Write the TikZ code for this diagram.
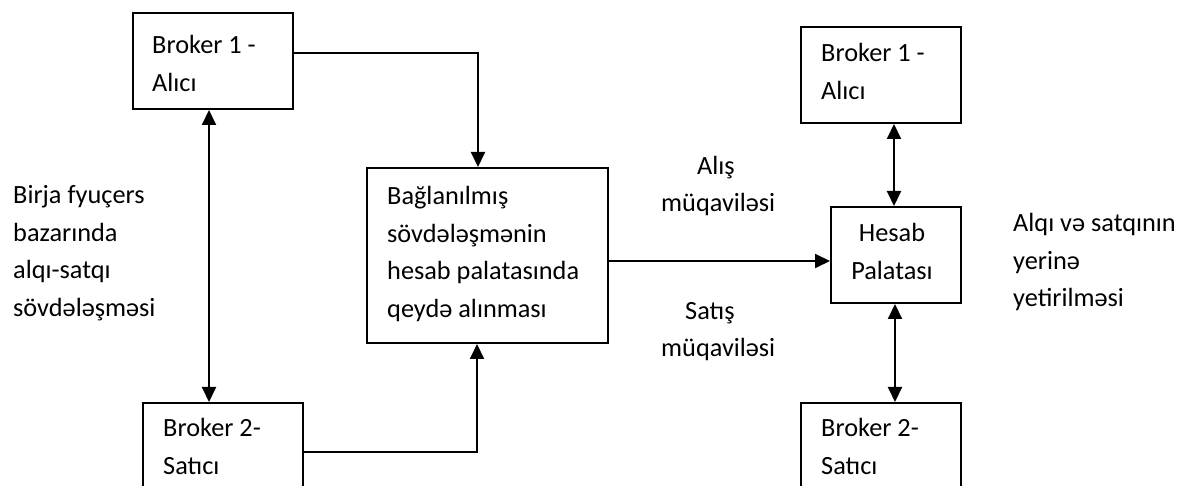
\documentclass[tikz,border=0pt]{standalone}
\usepackage{fontspec}
\setmainfont{Carlito}
\usetikzlibrary{arrows.meta,calc}

\begin{document}
\begin{tikzpicture}[x=1pt,y=-1pt,
  box/.style={draw=black,line width=2pt,fill=white,inner sep=0pt,anchor=north west},
  txt/.style={inner sep=0pt,align=left,anchor=base west,
    font=\fontsize{26.3}{37.5}\selectfont},
  ctxt/.style={txt,align=center,anchor=base},
  link/.style={line width=2pt,-{Triangle[width=14pt,length=15pt]}},
  dbl/.style={line width=2pt,{Triangle[width=14pt,length=15pt]}-{Triangle[width=14pt,length=15pt]}}]

\useasboundingbox (0,0) rectangle (1195,486);

% boxes
\node[box,minimum width=160pt,minimum height=96pt] (b1l) at (132,12) {};
\node[box,minimum width=160pt,minimum height=98pt] (b2l) at (142,402) {};
\node[box,minimum width=241pt,minimum height=175pt] (mid) at (366,167) {};
\node[box,minimum width=130pt,minimum height=96pt] (hes) at (830,206) {};
\node[box,minimum width=160pt,minimum height=96pt] (b1r) at (800,26) {};
\node[box,minimum width=160pt,minimum height=98pt] (b2r) at (800,402) {};

% box texts (each placed at the baseline of its last line)
\node[txt] (b1ltxt) at (152,91.5) {Broker 1 -\\Alıcı};
\node[txt] (b2ltxt) at (163,474.5) {Broker 2-\\Satıcı};
\node[txt] (midtxt) at (387,317.5) {Bağlanılmış\\sövdələşmənin\\hesab palatasında\\qeydə alınması};
\node[ctxt] (hestxt) at (892,279.5) {Hesab\\Palatası};
\node[txt] (b1rtxt) at (821,99.5) {Broker 1 -\\Alıcı};
\node[txt] (b2rtxt) at (821,474.5) {Broker 2-\\Satıcı};

% free labels
\node[txt] (lefttxt) at (13,316.5) {Birja fyuçers\\bazarında\\alqı-satqı\\sövdələşməsi};
\node[txt] (alis) at (697,175) {Alış};
\node[txt] (alism) at (661,212) {müqaviləsi};
\node[txt] (satis) at (685,320) {Satış};
\node[txt] (satism) at (661,357) {müqaviləsi};
\node[txt] (righttxt) at (1013,307) {Alqı və satqının\\yerinə\\yetirilməsi};

% connectors
\draw[link] ([yshift=8pt]b1l.east) -| ([xshift=-9.5pt]mid.north);
\draw[link] (b2l.east) -| ([xshift=-10.5pt]mid.south);
\draw[dbl] ([xshift=-4pt]b1l.south) -- ([xshift=-14pt]b2l.north);
\draw[link] ([yshift=-5.5pt]mid.east) -- ([yshift=-5.5pt]mid.east -| hes.west);
\draw[dbl] ([xshift=-2pt]hes.north |- b1r.south) -- ([xshift=-2pt]hes.north);
\draw[dbl] ([xshift=-1pt]hes.south) -- ([xshift=-1pt]hes.south |- b2r.north);

\end{tikzpicture}
\end{document}
